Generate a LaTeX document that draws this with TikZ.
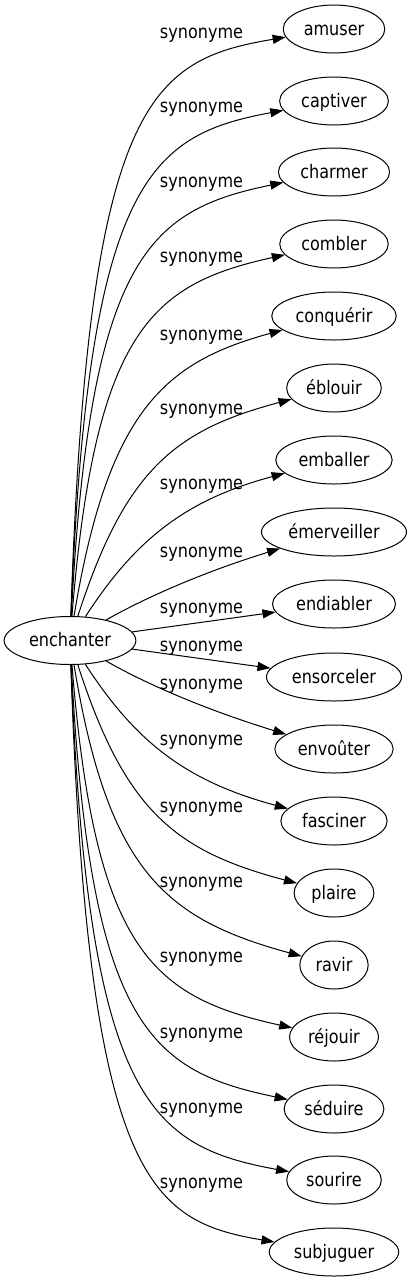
\documentclass[tikz,border=0pt]{standalone}
\usepackage{fontspec}
\setmainfont{DejaVu Sans}[FakeStretch=0.86]
\usetikzlibrary{arrows.meta,shapes.geometric}
\begin{document}
\begin{tikzpicture}[x=1pt,y=-1pt,
  word/.style={ellipse,draw,line width=1pt,minimum height=48pt,inner xsep=5.66pt,inner ysep=0pt,
    text height=15pt,text depth=3pt,font=\fontsize{18.67}{22}\selectfont},
  lbl/.style={anchor=base,inner sep=0pt,font=\fontsize{18.67}{22}\selectfont},
  syn/.style={draw,line width=1pt,-{Triangle[length=13pt,width=9pt]}}]
\useasboundingbox (0,0) rectangle (413,1283);
\node[word] (root) at (70,640.5) {enchanter};
\node[word] (n1) at (334,29) {amuser};
\node[word] (n2) at (334,101) {captiver};
\node[word] (n3) at (334,172) {charmer};
\node[word] (n4) at (334,244) {combler};
\node[word] (n5) at (334,316) {conquérir};
\node[word] (n6) at (334,388) {éblouir};
\node[word] (n7) at (334,460) {emballer};
\node[word] (n8) at (334,532) {émerveiller};
\node[word] (n9) at (334,604) {endiabler};
\node[word] (n10) at (334,677) {ensorceler};
\node[word] (n11) at (334,749) {envoûter};
\node[word] (n12) at (334,821) {fasciner};
\node[word] (n13) at (334,893) {plaire};
\node[word] (n14) at (334,965) {ravir};
\node[word] (n15) at (334,1037) {réjouir};
\node[word] (n16) at (334,1109) {séduire};
\node[word] (n17) at (334,1180) {sourire};
\node[word] (n18) at (334,1252) {subjuguer};
\draw[syn] (root) .. controls (88,100) and (150,60) .. (n1);
\draw[syn] (root) .. controls (88,180) and (150,135) .. (n2);
\draw[syn] (root) .. controls (90,255) and (150,210) .. (n3);
\draw[syn] (root) .. controls (95,330) and (152,284) .. (n4);
\draw[syn] (root) .. controls (108,410) and (165,362) .. (n5);
\draw[syn] (root) .. controls (125,470) and (175,430) .. (n6);
\draw[syn] (root) .. controls (135,540) and (185,500) .. (n7);
\draw[syn] (root) .. controls (150,595) and (210,570) .. (n8);
\draw[syn] (root) -- (n9);
\draw[syn] (root) -- (n10);
\draw[syn] (root) .. controls (150,686) and (210,711) .. (n11);
\draw[syn] (root) .. controls (135,741) and (185,781) .. (n12);
\draw[syn] (root) .. controls (125,811) and (175,851) .. (n13);
\draw[syn] (root) .. controls (108,871) and (165,919) .. (n14);
\draw[syn] (root) .. controls (95,951) and (152,997) .. (n15);
\draw[syn] (root) .. controls (90,1026) and (150,1071) .. (n16);
\draw[syn] (root) .. controls (88,1101) and (150,1146) .. (n17);
\draw[syn] (root) .. controls (88,1181) and (150,1221) .. (n18);
\node[lbl] (l1) at (201.5,38) {synonyme};
\node[lbl] (l2) at (201.5,112) {synonyme};
\node[lbl] (l3) at (201.5,187) {synonyme};
\node[lbl] (l4) at (201.5,262) {synonyme};
\node[lbl] (l5) at (201.5,340) {synonyme};
\node[lbl] (l6) at (201.5,414) {synonyme};
\node[lbl] (l7) at (201.5,489) {synonyme};
\node[lbl] (l8) at (201.5,557) {synonyme};
\node[lbl] (l9) at (201.5,613) {synonyme};
\node[lbl] (l10) at (201.5,651) {synonyme};
\node[lbl] (l11) at (201.5,689) {synonyme};
\node[lbl] (l12) at (201.5,745) {synonyme};
\node[lbl] (l13) at (201.5,812) {synonyme};
\node[lbl] (l14) at (201.5,887) {synonyme};
\node[lbl] (l15) at (201.5,962) {synonyme};
\node[lbl] (l16) at (201.5,1038) {synonyme};
\node[lbl] (l17) at (201.5,1113) {synonyme};
\node[lbl] (l18) at (201.5,1188) {synonyme};
\end{tikzpicture}
\end{document}
